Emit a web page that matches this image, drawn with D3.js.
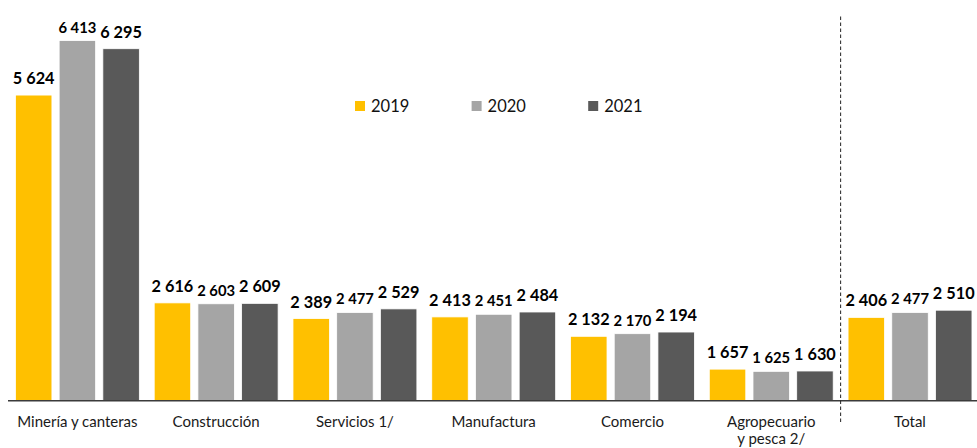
<!DOCTYPE html>
<html><head><meta charset="utf-8">
<script src="https://cdn.jsdelivr.net/npm/d3@7"></script>
<style>body{margin:0;background:#fff;}svg{display:block;font-family:Lato,"Open Sans",sans-serif;}</style>
</head><body>
<svg id="c" width="977" height="448"></svg>
<script>
const categories = ["Minería y canteras","Construcción","Servicios 1/","Manufactura","Comercio","Agropecuario|y pesca 2/","Total"];
const seriesNames = ["2019","2020","2021"];
const values2019 = [5624,2616,2389,2413,2132,1657,2406];
const values2020 = [6413,2603,2477,2451,2170,1625,2477];
const values2021 = [6295,2609,2529,2484,2194,1630,2510];
const colors = ["#FFC000","#A5A5A5","#595959"];
const yDomain = [1200, 7000];

const svg = d3.select("#c");
const x0 = d3.scaleBand().domain(categories).range([8, 979.4]).padding(0);
const x1 = d3.scaleBand().domain(seriesNames).range([0, x0.bandwidth()]).paddingInner(0.165).paddingOuter(0.17);
const y = d3.scaleLinear().domain(yDomain).range([400.7, 0]);
const color = d3.scaleOrdinal().domain(seriesNames).range(colors);
const allVals = [values2019, values2020, values2021];
const fmt = v => d3.format(",")(v).replace(/,/g, " ");

const data = categories.map((c, i) => ({cat: c, vals: seriesNames.map((s, j) => ({s, v: allVals[j][i]}))}));

const g = svg.selectAll("g.grp").data(data).join("g").attr("class","grp")
  .attr("transform", d => `translate(${x0(d.cat)},0)`);
g.selectAll("rect").data(d => d.vals).join("rect")
  .attr("x", d => x1(d.s)).attr("width", x1.bandwidth())
  .attr("y", d => y(d.v)).attr("height", d => y(yDomain[0]) - y(d.v))
  .attr("fill", d => color(d.s)).attr("stroke","#fff").attr("stroke-width",0.8);
g.selectAll("text.val").data(d => d.vals).join("text").attr("class","val")
  .attr("x", d => x1(d.s) + x1.bandwidth()/2)
  .attr("y", d => y(d.v) - (d.s === "2020" ? 8 : 11))
  .attr("text-anchor","middle").attr("font-weight","bold")
  .attr("font-size", d => d.s === "2020" ? 14.8 : 16.3)
  .attr("fill","#000").text(d => fmt(d.v));

// x axis
const xAxis = d3.axisBottom(x0).tickSize(0).tickFormat(() => "");
const ax = svg.append("g").attr("transform", `translate(0,${y(yDomain[0])})`).call(xAxis);
ax.select(".domain").attr("stroke","#3b3b3b").attr("stroke-width",1.6).attr("d", "M8,0H977");

svg.selectAll("text.cat").data(categories).join("text").attr("class","cat")
  .attr("text-anchor","middle").attr("font-size",15).attr("fill","#1a1a1a")
  .attr("x", d => x0(d) + x0.bandwidth()/2).attr("y", 426.5)
  .each(function(d){
    const lines = d.split("|");
    d3.select(this).selectAll("tspan").data(lines).join("tspan")
      .attr("x", x0(d) + x0.bandwidth()/2).attr("dy", (l,i) => i ? 17.5 : 0).text(l => l);
  });

// dashed separator
const sepX = x0(categories[6]);
svg.append("line").attr("x1", sepX).attr("x2", sepX).attr("y1", 16.5).attr("y2", 422)
  .attr("stroke","#222").attr("stroke-width",1).attr("stroke-dasharray","3.5,2.5");

// legend
const lg = svg.selectAll("g.lg").data(seriesNames).join("g").attr("class","lg")
  .attr("transform", (d,i) => `translate(${355 + i*116.6},101)`);
lg.append("rect").attr("width",10).attr("height",10).attr("fill", d => color(d));
lg.append("text").attr("x",16).attr("y",10.5).attr("font-size",16.5).attr("fill","#111").text(d => d);
</script>
</body></html>
